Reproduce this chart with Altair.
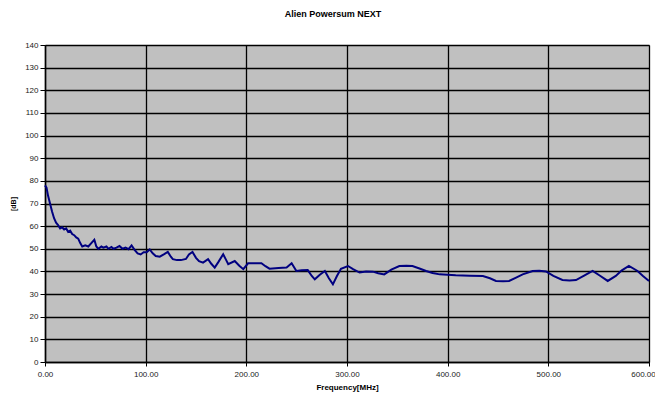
import altair as alt
import pandas as pd

freq = [0, 1.5, 3, 5, 7, 9, 11, 13, 15, 17, 19, 21, 23, 25, 27, 29, 31, 33, 35, 37,
        40, 43, 46, 49, 51, 53, 56, 58, 61, 63, 66, 68, 71, 74, 77, 80, 83, 86, 89, 92,
        95, 98, 101, 104, 107, 110, 114, 118, 122, 125, 127, 131, 135, 140, 143, 146.5,
        150, 153, 157, 162, 165, 168.6, 172, 177, 180, 182, 188.5, 193, 197, 201.7,
        208, 215, 219, 223, 232, 240, 245, 249.7, 255, 261, 265, 268, 273, 278, 282,
        286, 290, 294, 301, 306, 312.5, 319, 325.7, 331, 337, 344, 352, 359, 365, 372,
        378.6, 385, 392, 408, 422, 435, 442, 448, 455, 461, 468, 474.5, 484.4, 491,
        497.7, 505, 514, 521, 527.5, 536, 544, 551, 559, 567, 573, 580, 588.6, 594, 600]
db = [78, 77, 73.5, 70, 66.5, 63.5, 61.5, 60.5, 59, 59.5, 58.5, 59, 57.5, 58, 56.5, 56,
      55, 54.5, 52.5, 51, 51.5, 51, 52.5, 54, 51, 50, 51, 50.5, 51, 50, 50.8, 50, 50.5,
      51.2, 50, 50.5, 49.8, 51.5, 49.5, 48, 47.5, 48.5, 48.5, 49.7, 48, 46.8, 46.5, 47.5,
      48.6, 46.5, 45.4, 45, 45, 45.5, 47.5, 48.6, 46, 44.5, 43.9, 45.4, 43.5, 41.7, 44,
      47.6, 45, 43.2, 44.6, 42.5, 41, 43.6, 43.6, 43.6, 42.3, 41.2, 41.5, 41.7, 43.6,
      40.2, 40.5, 40.6, 38, 36.5, 38.5, 40.2, 37, 34.3, 38, 41.2, 42.4, 41, 39.5, 40,
      39.9, 39.2, 38.7, 40.8, 42.4, 42.5, 42.4, 41.3, 40.2, 39.3, 38.7, 38.3, 38.1, 38,
      37, 35.8, 35.7, 35.8, 37.3, 38.7, 40.2, 40.3, 40, 38, 36.2, 36, 36.2, 38.3, 40.2,
      38.2, 35.8, 38, 40.5, 42.4, 40.2, 38, 35.8]

x_ticks = [0, 100, 200, 300, 400, 500, 600]
y_ticks = list(range(0, 141, 10))

df = pd.DataFrame({"freq": freq, "db": db})

chart = alt.Chart(df).mark_line(color="#000080", strokeWidth=2).encode(
    x=alt.X("freq:Q",
            scale=alt.Scale(domain=[0, 600], nice=False, zero=False),
            axis=alt.Axis(values=x_ticks, format=".2f", title="Frequency[MHz]",
                          grid=True, gridColor="#000000", gridWidth=1.3, gridOpacity=1,
                          domainColor="#000000", domainWidth=1.5,
                          tickColor="#000000", tickSize=4, tickWidth=1,
                          labelFont="Liberation Sans", labelFontSize=8, labelColor="#222",
                          labelPadding=4, labelFlush=False, labelOverlap=False,
                          labelOffset=alt.expr("datum.value == 600 ? -6 : 0"),
                          titleFont="Liberation Sans", titleFontSize=8, titleFontWeight="bold",
                          titleColor="#000", titlePadding=5)),
    y=alt.Y("db:Q",
            scale=alt.Scale(domain=[0, 140], nice=False),
            axis=alt.Axis(values=y_ticks, title="[dB]",
                          grid=True, gridColor="#000000", gridWidth=1.3, gridOpacity=1,
                          domainColor="#000000", domainWidth=1.5,
                          tickColor="#000000", tickSize=5, tickWidth=1,
                          labelFont="Liberation Sans", labelFontSize=8, labelColor="#222",
                          labelPadding=2, labelFlush=False,
                          titleFont="Liberation Sans", titleFontSize=7, titleFontWeight="bold",
                          titleColor="#000", titlePadding=8)),
).properties(
    width=604,
    height=317,
    title=alt.TitleParams("Alien Powersum NEXT", font="Liberation Sans", fontSize=9,
                          fontWeight="bold", color="#000", offset=22, dx=-14),
    autosize=alt.AutoSizeParams(type="none"),
    padding={"left": 37, "top": 37, "right": 6, "bottom": 30},
).configure_view(
    fill="#C0C0C0", stroke="#808080", strokeWidth=1
)

chart.save("out.html", embed_options={"renderer": "svg", "actions": False})
